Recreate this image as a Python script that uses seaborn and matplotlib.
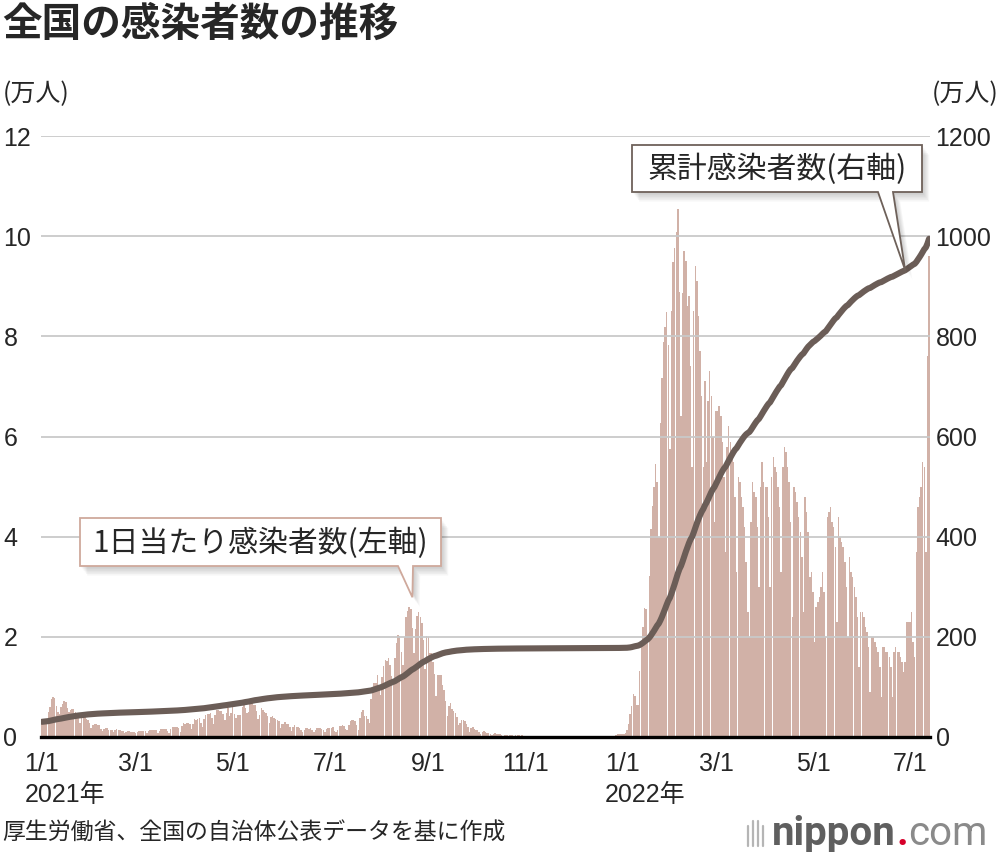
import matplotlib
matplotlib.use("Agg")
import matplotlib.pyplot as plt
from matplotlib.patches import Polygon
from matplotlib.lines import Line2D
import seaborn as sns
import numpy as np
import pandas as pd

# daily new cases, 万人 (2021-01-01 .. 2022-07-13)
jan21 = [0.32,0.31,0.31,0.33,0.49,0.60,0.76,0.79,0.78,0.61,0.49,0.45,0.59,0.66,0.71,0.70,0.58,0.49,0.53,0.56,0.56,0.50,0.47,0.39,0.28,0.39,0.40,0.40,0.35,0.33,0.27]
feb21 = [0.18,0.23,0.26,0.26,0.23,0.23,0.16, 0.12,0.16,0.17,0.17,0.14,0.14,0.14, 0.10,0.13,0.15,0.13,0.13,0.12,0.11, 0.07,0.09,0.11,0.11,0.10,0.10,0.10]
mar21 = [0.07,0.09,0.12,0.12,0.11,0.11,0.11, 0.07,0.11,0.13,0.13,0.13,0.13,0.13, 0.08,0.11,0.15,0.15,0.15,0.15,0.11, 0.08,0.15,0.19,0.19,0.19,0.20,0.18, 0.10,0.21,0.28]
apr21 = [0.26,0.28,0.27,0.25, 0.16,0.26,0.35,0.34,0.35,0.37,0.28, 0.20,0.35,0.43,0.46,0.45,0.48,0.37, 0.25,0.43,0.53,0.54,0.51,0.51,0.46, 0.33,0.48,0.58,0.41,0.47]
may21 = [0.59,0.45, 0.38,0.44,0.43,0.43,0.60,0.72,0.58, 0.48,0.50,0.70,0.70,0.64,0.64,0.52, 0.36,0.44,0.57,0.53,0.50,0.48,0.41, 0.28,0.40,0.42,0.38,0.36,0.33,0.32, 0.17]
jun21 = [0.26,0.26,0.29,0.26,0.26,0.20, 0.12,0.20,0.23,0.19,0.19,0.18,0.14, 0.09,0.13,0.17,0.17,0.16,0.18,0.13, 0.09,0.14,0.17,0.17,0.18,0.16,0.13, 0.09,0.16,0.18]
jul21 = [0.18,0.18,0.19,0.12, 0.09,0.14,0.22,0.22,0.23,0.22,0.15, 0.13,0.24,0.32,0.34,0.34,0.31,0.23, 0.14,0.37,0.49,0.54,0.42,0.42,0.36, 0.28,0.76,0.96,1.07,1.08,1.23]
aug21 = [1.01, 0.84,1.20,1.42,1.53,1.52,1.58,1.44, 1.21,1.03,1.58,1.88,2.04,2.02,1.70, 1.43,1.99,2.39,2.51,2.59,2.55,2.17, 1.67,2.16,2.42,2.49,2.40,2.27,1.93, 1.36,2.01]
sep21 = [2.00,1.68,1.67,1.50,1.26, 0.82,1.24,1.24,1.24,1.04,0.93,0.72, 0.42,0.62,0.67,0.56,0.51,0.48,0.40, 0.24,0.28,0.33,0.34,0.31,0.26,0.20, 0.09,0.18,0.20,0.16]
oct21 = [0.14,0.14,0.10, 0.06,0.09,0.11,0.09,0.08,0.08,0.06, 0.04,0.06,0.07,0.06,0.05,0.05,0.04, 0.02,0.04,0.04,0.035,0.03,0.03,0.03, 0.015,0.03,0.03,0.03,0.025,0.03,0.02]
nov21 = [0.01,0.02,0.015,0.02,0.02,0.02,0.016, 0.01,0.016,0.02,0.02,0.02,0.02,0.015, 0.01,0.012,0.015,0.015,0.015,0.013,0.01, 0.005,0.008,0.008,0.01,0.01,0.012,0.01, 0.006,0.01]
dec21 = [0.012,0.012,0.012,0.014,0.013, 0.008,0.012,0.014,0.014,0.015,0.013,0.012, 0.01,0.013,0.016,0.016,0.02,0.018,0.015, 0.01,0.017,0.025,0.026,0.028,0.026,0.028, 0.02,0.04,0.05,0.055,0.055]
jan22 = [0.05,0.055, 0.08,0.13,0.26,0.45,0.62,0.85,0.82, 0.64,0.64,1.32,1.89,2.19,2.57,2.56, 2.03,3.22,4.15,4.62,4.99,5.46,5.09, 3.99,6.26,7.16,7.89,8.19,8.49,7.82, 5.75]
feb22 = [8.50,9.49,9.76,10.09,10.55,8.89, 6.40,8.86,9.71,9.50,8.60,8.80,7.40, 5.40,8.50,9.40,9.10,8.40,7.70,6.80, 5.40,7.10,5.50,6.70,7.30,6.80,6.00, 4.30]
mar22 = [6.5,6.5,6.6,6.4,5.9,5.2, 3.7,5.8,6.2,5.9,5.7,5.5,4.8, 3.3,5.2,5.1,4.8,4.6,4.2,3.5, 2.5,2.0,4.3,5.1,4.9,4.8,4.2, 3.0,5.0,5.5,5.1]
apr22 = [5.0,5.0,4.4, 3.0,5.2,5.6,5.4,5.3,5.0,4.6, 3.3,5.4,5.8,5.7,5.4,5.1,4.3, 2.4,5.0,4.9,4.7,4.4,4.1,3.6, 2.5,4.8,4.5,4.1,3.2,3.3]
may22 = [2.9, 1.9,2.6,2.7,2.8,3.0,3.3,2.9, 2.0,4.4,4.5,4.6,4.3,4.2,3.8, 2.3,4.4,4.0,3.9,3.8,3.5,3.0, 2.0,3.6,3.3,3.2,3.0,2.8,2.4, 1.4,2.5]
jun22 = [2.5,2.4,2.2,2.1,1.8, 0.9,2.0,2.0,1.9,1.8,1.7,1.4, 0.8,1.8,1.8,1.7,1.7,1.6,1.4, 0.8,1.7,1.8,1.7,1.7,1.6,1.5, 1.3,1.5,2.3,2.3]
jul22 = [2.3,2.5,1.9, 1.6,3.7,4.6,4.8,5.0,5.5,5.4, 3.7,7.6,9.6]

cum_start = 30  # 万人, cumulative total on 2020-12-31

tick_dates = ['2021-01-01','2021-03-01','2021-05-01','2021-07-01','2021-09-01','2021-11-01',
              '2022-01-01','2022-03-01','2022-05-01','2022-07-01']
tick_labels = ['1/1','3/1','5/1','7/1','9/1','11/1','1/1','3/1','5/1','7/1']
year_labels = {'2021-01-01': '2021年', '2022-01-01': '2022年'}

daily = np.array(jan21+feb21+mar21+apr21+may21+jun21+jul21+aug21+sep21+oct21+nov21+dec21
                 +jan22+feb22+mar22+apr22+may22+jun22+jul22)
start = pd.Timestamp('2021-01-01')
df = pd.DataFrame({'day': np.arange(len(daily)), 'daily': daily})
df['cum'] = cum_start + df['daily'].cumsum()

def day_of(d):
    return (pd.Timestamp(d) - start).days

bar_color = '#d1b1a7'
line_color = '#6b5d57'
grid_color = '#c9c9c9'

W, H = 1000, 852
sns.set_style('white')
plt.rcParams['font.family'] = ['Liberation Sans', 'Noto Sans CJK JP', 'DejaVu Sans']
jp = ['Noto Sans CJK JP', 'DejaVu Sans']

fig = plt.figure(figsize=(W/100, H/100), dpi=100)
ax = fig.add_axes([41/W, 1-737/H, (930-41)/W, (737-136)/H])

sns.barplot(data=df, x='day', y='daily', native_scale=True, color=bar_color,
            width=0.93, linewidth=0, saturation=1, errorbar=None, ax=ax, zorder=1)
ax.set_xlim(-0.6, len(daily) - 0.4)
ax.set_ylim(0, 12)
ax.set_yticks(np.arange(0, 13, 2))
ax.set_yticklabels([str(v) for v in range(0, 13, 2)])
ax.set_xticks([day_of(d) for d in tick_dates])
ax.set_xticklabels(tick_labels)
ax.set_xlabel('')
ax.set_ylabel('')
for v in range(2, 13, 2):
    ax.axhline(v, color=grid_color, lw=1.3, zorder=2)
for s in ['top', 'left', 'right']:
    ax.spines[s].set_visible(False)
ax.spines['bottom'].set_color('black')
ax.spines['bottom'].set_linewidth(2.4)
ax.spines['bottom'].set_zorder(5)
ax.tick_params(axis='x', length=0, pad=11, labelsize=18)
ax.tick_params(axis='y', length=0, pad=27, labelsize=18)
for lab in ax.get_yticklabels():
    lab.set_ha('left')

for d, txt in year_labels.items():
    ax.annotate(txt, xy=(day_of(d), 0), xycoords=('data', 'axes fraction'),
                xytext=(-17, -58), textcoords='offset pixels',
                ha='left', va='center', fontsize=18)

ax2 = ax.twinx()
sns.lineplot(data=df, x='day', y='cum', ax=ax2, color=line_color, linewidth=4.4,
             solid_capstyle='round')
ax2.set_ylim(0, 1200)
ax2.set_yticks(np.arange(0, 1201, 200))
ax2.set_yticklabels([str(v) for v in range(0, 1201, 200)])
ax2.set_ylabel('')
ax2.set_xlabel('')
for s in ax2.spines.values():
    s.set_visible(False)
ax2.tick_params(axis='y', length=0, pad=4, labelsize=18)

# texts
def fx(x):
    return x / W

def fy(y):
    return 1 - y / H

fig.text(fx(2), fy(24), '全国の感染者数の推移', fontsize=28.5, fontweight='bold',
         family=jp, ha='left', va='center')
fig.text(fx(3), fy(94), '(万人)', fontsize=18, family=jp, ha='left', va='center')
fig.text(fx(998), fy(94), '(万人)', fontsize=18, family=jp, ha='right', va='center')
fig.text(fx(2), fy(833), '厚生労働省、全国の自治体公表データを基に作成', fontsize=16.5,
         family=jp, ha='left', va='center')

# callouts
def to_px(axis, x, y):
    dx, dy = axis.transData.transform((x, y))
    return dx, H - dy

def callout(box, base, tip, text, edge):
    x0, y0, x1, y1 = box
    b0, b1 = base
    pts = [(x0, y0), (x1, y0), (x1, y1), (b1, y1), tip, (b0, y1), (x0, y1)]
    for k in range(1, 7):
        sh = [(fx(px + 1.2 * k), fy(py + 1.6 * k)) for px, py in pts]
        fig.add_artist(Polygon(sh, closed=True, facecolor='#000000', alpha=0.035,
                               edgecolor='none', zorder=4))
    fig.add_artist(Polygon([(fx(px), fy(py)) for px, py in pts], closed=True,
                           facecolor='white', edgecolor=edge, linewidth=1.3, zorder=5))
    fig.text(fx((x0 + x1) / 2), fy((y0 + y1) / 2 + 1), text, fontsize=21.5, family=jp,
             ha='center', va='center', zorder=6)

fig.canvas.draw()
peak = int(df.loc[df['day'] < 365, 'daily'].idxmax())
tip1 = to_px(ax, peak + 2, df['daily'][peak] + 0.2)
callout((80, 518, 441, 566), (398, 413), tip1, '1日当たり感染者数(左軸)', '#cfa99c')

tip_day = day_of('2022-06-28')
tip2 = to_px(ax2, tip_day, df['cum'][tip_day])
callout((632, 145, 922, 192), (878, 893), tip2, '累計感染者数(右軸)', '#6e615a')

# logo
for lx, top in [(748, 826), (753, 821), (758, 821), (763, 826)]:
    fig.add_artist(Line2D([fx(lx), fx(lx)], [fy(top), fy(846)], color='#b5b5b5', lw=1.6))
t1 = fig.text(fx(772), fy(845), 'nippon', fontsize=29, fontweight='bold', family='Roboto',
              color='#5f5f5f', ha='left', va='baseline')
fig.canvas.draw()
r = fig.canvas.get_renderer()
e1 = t1.get_window_extent(r)
t2 = fig.text(e1.x1 / W + 1 / W, fy(845), '.', fontsize=29, fontweight='bold', family='Roboto',
              color='#d6002a', ha='left', va='baseline')
e2 = t2.get_window_extent(r)
fig.text(e2.x1 / W, fy(845), 'com', fontsize=29, family='Roboto', color='#8a8a8a',
         ha='left', va='baseline')

fig.savefig('out.png', dpi=100)
